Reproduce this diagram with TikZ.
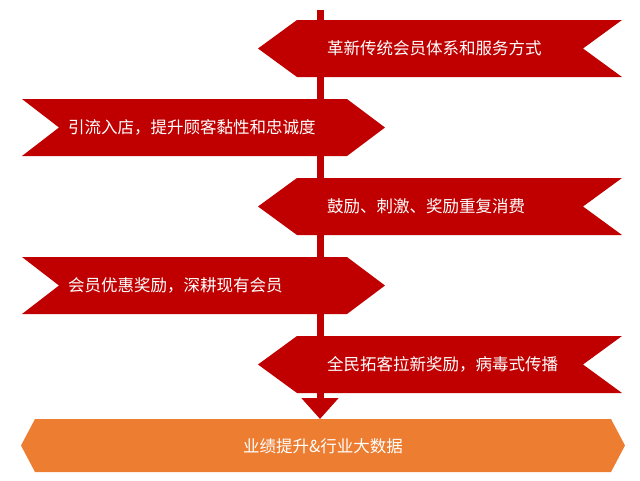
\documentclass[tikz,border=0pt]{standalone}
\usepackage{fontspec}
\newfontfamily\cjk{Noto Sans CJK SC}
\usetikzlibrary{arrows.meta}
\definecolor{ribred}{HTML}{C00000}
\definecolor{goalorange}{HTML}{ED7D31}

\begin{document}
\begin{tikzpicture}[x=1pt, y=-1pt,
    ribbon/.style={fill=ribred},
    ribbontext/.style={text=white, anchor=west, inner sep=0pt, font=\cjk\fontsize{16.5}{19}\selectfont},
    spine/.style={draw=ribred, line width=7pt, -{Triangle[width=36pt, length=21pt]}}]
            \useasboundingbox (0, 0) rectangle (640, 480);
            \coordinate (start) at (320, 10);
            \coordinate (goal) at (320, 419);
            \draw[spine] (start) -- (goal);
            \foreach \txt[count=\i from 1, evaluate=\i as \y using 79*\i-30.5] in {革新传统会员体系和服务方式, 引流入店，提升顾客黏性和忠诚度, 鼓励、刺激、奖励重复消费, 会员优惠奖励，深耕现有会员, 全民拓客拉新奖励，病毒式传播}
            {
                \ifodd\i
                    \fill[ribbon] (622, \y) ++(0, -28.5) -- ++(-325, 0) -- ++(-39, 28.5) -- ++(39, 28.5) -- ++(325, 0) -- ++(-39, -28.5) -- cycle;
                    \node[ribbontext] (item\i) at (327, \y) {\txt};
                \else
                    \fill[ribbon] (22, \y) ++(0, -28.5) -- ++(325, 0) -- ++(38, 28.5) -- ++(-38, 28.5) -- ++(-325, 0) -- ++(37, -28.5) -- cycle;
                    \node[ribbontext] (item\i) at (68, \y) {\txt};
                \fi
            }
            \fill[goalorange] (35, 419) -- (611, 419) -- (625, 445.5) -- (611, 472) -- (35, 472) -- (21, 445.5) -- cycle;
            \node[ribbontext, anchor=center] (result) at (323, 446) {业绩提升\&行业大数据};
        \end{tikzpicture}
\end{document}
